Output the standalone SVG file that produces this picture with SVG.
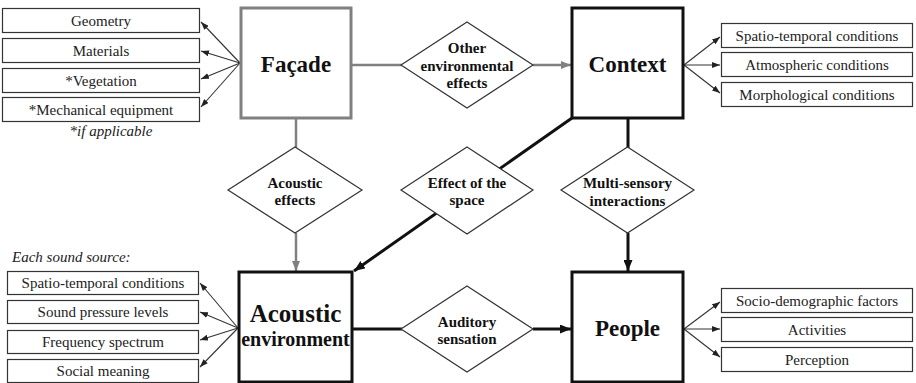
<svg xmlns="http://www.w3.org/2000/svg" width="916" height="383" viewBox="0 0 916 383">
<style>
text{font-family:'Liberation Serif','Times New Roman',Times,'DejaVu Serif',serif}
.big{font-weight:bold;fill:#111;text-anchor:middle}
.dia{font-weight:bold;font-size:15px;fill:#111;text-anchor:middle}
.sm{font-size:15px;fill:#222;text-anchor:middle}
.it{font-style:italic;font-size:15px;fill:#222}
.sbox{fill:#fff;stroke:#333;stroke-width:1.2}
.diamond{fill:#fff;stroke:#333;stroke-width:1.2}
.grayBox{fill:#fff;stroke:#808080;stroke-width:3}
.blackBox{fill:#fff;stroke:#111;stroke-width:3}
.thin{stroke:#333;stroke-width:1.1;fill:none;marker-end:url(#aSmall)}
.gray{stroke:#808080;stroke-width:2.5;fill:none}
.black{stroke:#111;stroke-width:3;fill:none}
</style>
<defs>
<marker id="aSmall" markerUnits="userSpaceOnUse" markerWidth="8" markerHeight="6" refX="8" refY="3" orient="auto"><path d="M0,0 L8,3 L0,6 z" fill="#222"/></marker>
<marker id="aGray" markerUnits="userSpaceOnUse" markerWidth="10" markerHeight="8" refX="10" refY="4" orient="auto"><path d="M0,0 L10,4 L0,8 z" fill="#808080"/></marker>
<marker id="aBlack" markerUnits="userSpaceOnUse" markerWidth="11" markerHeight="9" refX="11" refY="4.5" orient="auto"><path d="M0,0 L11,4.5 L0,9 z" fill="#111"/></marker>
</defs>

<g id="connectors">
  <line class="gray" x1="352" y1="65" x2="402" y2="65"/>
  <line class="gray" x1="533" y1="65" x2="571" y2="65" marker-end="url(#aGray)"/>
  <line class="gray" x1="296" y1="119" x2="296" y2="148"/>
  <line class="gray" x1="296" y1="233" x2="296" y2="271" marker-end="url(#aGray)"/>
  <line class="black" x1="572" y1="118" x2="354" y2="271" marker-end="url(#aBlack)"/>
  <line class="black" x1="628" y1="119" x2="628" y2="148"/>
  <line class="black" x1="628" y1="233" x2="628" y2="271" marker-end="url(#aBlack)"/>
  <line class="black" x1="353" y1="329" x2="402" y2="329"/>
  <line class="black" x1="533" y1="329" x2="571" y2="329" marker-end="url(#aBlack)"/>
  <line class="thin" x1="240" y1="63" x2="201" y2="22"/>
  <line class="thin" x1="240" y1="63" x2="201" y2="51"/>
  <line class="thin" x1="240" y1="63" x2="201" y2="79"/>
  <line class="thin" x1="240" y1="63" x2="201" y2="107"/>
  <line class="thin" x1="684" y1="65" x2="720" y2="37"/>
  <line class="thin" x1="684" y1="65" x2="720" y2="65"/>
  <line class="thin" x1="684" y1="65" x2="720" y2="93"/>
  <line class="thin" x1="238" y1="328" x2="200" y2="283"/>
  <line class="thin" x1="238" y1="328" x2="200" y2="312"/>
  <line class="thin" x1="238" y1="328" x2="200" y2="340"/>
  <line class="thin" x1="238" y1="328" x2="200" y2="367"/>
  <line class="thin" x1="684" y1="329" x2="720" y2="302"/>
  <line class="thin" x1="684" y1="329" x2="720" y2="329"/>
  <line class="thin" x1="684" y1="329" x2="720" y2="357"/>
</g>

<g id="facade">
  <rect class="grayBox" x="241" y="8" width="110" height="110"/>
  <text class="big" x="296" y="72" font-size="23">Façade</text>
</g>
<g id="context">
  <rect class="blackBox" x="572" y="8" width="111" height="110"/>
  <text class="big" x="627.5" y="72" font-size="23">Context</text>
</g>
<g id="acoustic-environment">
  <rect class="blackBox" x="239" y="272" width="113" height="110"/>
  <text class="big" x="295.5" y="322" font-size="25">Acoustic</text>
  <text class="big" x="295.5" y="346" font-size="20">environment</text>
</g>
<g id="people">
  <rect class="blackBox" x="572" y="272" width="111" height="110"/>
  <text class="big" x="627.5" y="336" font-size="23">People</text>
</g>

<g id="other-environmental-effects">
  <polygon class="diamond" points="467,22 533,65 467,108 401,65"/>
  <text class="dia" x="467" y="53">Other</text>
  <text class="dia" x="467" y="71">environmental</text>
  <text class="dia" x="467" y="88">effects</text>
</g>
<g id="acoustic-effects">
  <polygon class="diamond" points="295,147 362,190 295,233 228,190"/>
  <text class="dia" x="295" y="188">Acoustic</text>
  <text class="dia" x="295" y="205">effects</text>
</g>
<g id="effect-of-the-space">
  <polygon class="diamond" points="467,147 533,190 467,234 401,190"/>
  <text class="dia" x="467" y="188">Effect of the</text>
  <text class="dia" x="467" y="205">space</text>
</g>
<g id="multi-sensory-interactions">
  <polygon class="diamond" points="627.5,147 694,190 627.5,233 561,190"/>
  <text class="dia" x="627.5" y="188">Multi-sensory</text>
  <text class="dia" x="627.5" y="206">interactions</text>
</g>
<g id="auditory-sensation">
  <polygon class="diamond" points="467,286 533,329 467,372 401,329"/>
  <text class="dia" x="467" y="327">Auditory</text>
  <text class="dia" x="467" y="344">sensation</text>
</g>

<g id="facade-attributes">
  <rect class="sbox" x="2.5" y="8.5" width="197" height="24"/>
  <text class="sm" x="101" y="25.5">Geometry</text>
  <rect class="sbox" x="2.5" y="38.5" width="197" height="24"/>
  <text class="sm" x="101" y="55.5">Materials</text>
  <rect class="sbox" x="2.5" y="68.5" width="197" height="24"/>
  <text class="sm" x="101" y="85.5">*Vegetation</text>
  <rect class="sbox" x="2.5" y="97.5" width="197" height="24"/>
  <text class="sm" x="101" y="114.5">*Mechanical equipment</text>
  <text class="it" x="111" y="136" text-anchor="middle" font-size="14">*if applicable</text>
</g>

<g id="context-attributes">
  <rect class="sbox" x="721.5" y="23.5" width="191" height="24"/>
  <text class="sm" x="817" y="40.5">Spatio-temporal conditions</text>
  <rect class="sbox" x="721.5" y="52.5" width="191" height="24"/>
  <text class="sm" x="817" y="69.5">Atmospheric conditions</text>
  <rect class="sbox" x="721.5" y="82.5" width="191" height="24"/>
  <text class="sm" x="817" y="99.5">Morphological conditions</text>
</g>

<g id="acoustic-environment-attributes">
  <text class="it" x="12" y="262">Each sound source:</text>
  <rect class="sbox" x="7.5" y="271.5" width="191" height="23"/>
  <text class="sm" x="103" y="288">Spatio-temporal conditions</text>
  <rect class="sbox" x="7.5" y="300.5" width="191" height="23"/>
  <text class="sm" x="103" y="317">Sound pressure levels</text>
  <rect class="sbox" x="7.5" y="330.5" width="191" height="23"/>
  <text class="sm" x="103" y="347">Frequency spectrum</text>
  <rect class="sbox" x="7.5" y="359.5" width="191" height="23"/>
  <text class="sm" x="103" y="376">Social meaning</text>
</g>

<g id="people-attributes">
  <rect class="sbox" x="721.5" y="288.5" width="191" height="24"/>
  <text class="sm" x="817" y="305.5">Socio-demographic factors</text>
  <rect class="sbox" x="721.5" y="317.5" width="191" height="24"/>
  <text class="sm" x="817" y="334.5">Activities</text>
  <rect class="sbox" x="721.5" y="347.5" width="191" height="24"/>
  <text class="sm" x="817" y="364.5">Perception</text>
</g>
</svg>
